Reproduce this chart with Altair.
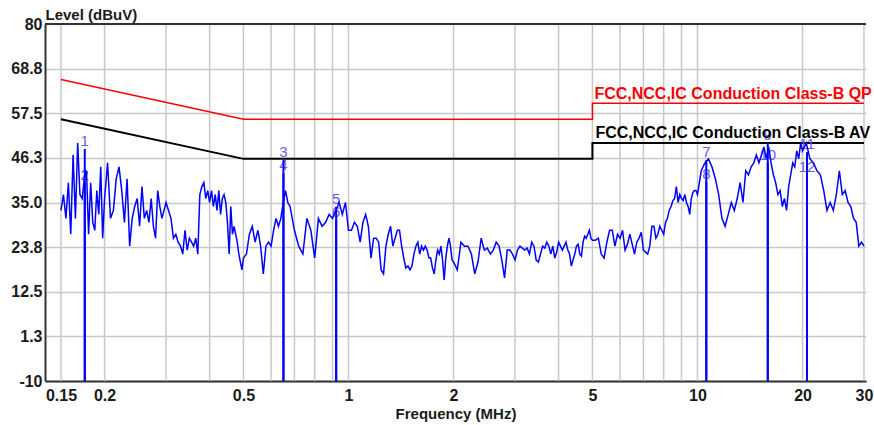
import altair as alt
import pandas as pd

# Measured conducted-emission sweep (MHz, dBuV)
trace_mhz = [
    0.1500, 0.1525, 0.1550, 0.1575, 0.1600, 0.1625, 0.1650, 0.1675, 0.1700, 0.1725,
    0.1750, 0.1775, 0.1800, 0.1825, 0.1850, 0.1875, 0.1900, 0.1925, 0.1950, 0.1975, 0.2000,
    0.204, 0.208, 0.212, 0.216, 0.220, 0.224, 0.228, 0.232, 0.236, 0.240,
    0.244, 0.248, 0.252, 0.256, 0.260, 0.264, 0.268, 0.272, 0.276, 0.280,
    0.284, 0.288, 0.292, 0.296, 0.300,
    0.305, 0.310, 0.315, 0.320, 0.325, 0.330, 0.335, 0.340, 0.345, 0.350,
    0.355, 0.360, 0.365, 0.370, 0.375, 0.380, 0.385, 0.390, 0.395, 0.400,
    0.405, 0.410, 0.415, 0.420, 0.425, 0.430, 0.435, 0.440, 0.445, 0.450,
    0.455, 0.460, 0.465, 0.470, 0.475, 0.480, 0.485, 0.490, 0.495, 0.500,
    0.51, 0.52, 0.53, 0.54, 0.55, 0.56, 0.57, 0.58, 0.59, 0.60,
    0.61, 0.62, 0.63, 0.64, 0.65, 0.66, 0.67, 0.68, 0.69, 0.70,
    0.72, 0.74, 0.76, 0.78, 0.80, 0.82, 0.84, 0.86, 0.88, 0.90,
    0.92, 0.94, 0.96, 0.98, 1.00,
    1.02, 1.04, 1.06, 1.08, 1.10, 1.12, 1.14, 1.16, 1.18, 1.20,
    1.22, 1.24, 1.26, 1.28, 1.30, 1.32, 1.34, 1.36, 1.38, 1.40,
    1.42, 1.44, 1.46, 1.48, 1.50, 1.52, 1.54, 1.56, 1.58, 1.60,
    1.62, 1.64, 1.66, 1.68, 1.70, 1.72, 1.74, 1.76, 1.78, 1.80,
    1.82, 1.84, 1.86, 1.88, 1.90, 1.92, 1.94, 1.96, 1.98, 2.00,
    2.05, 2.10, 2.15, 2.20, 2.25, 2.30, 2.35, 2.40, 2.45, 2.50,
    2.55, 2.60, 2.65, 2.70, 2.75, 2.80, 2.85, 2.90, 2.95, 3.00,
    3.05, 3.10, 3.15, 3.20, 3.25, 3.30, 3.35, 3.40, 3.45, 3.50,
    3.55, 3.60, 3.65, 3.70, 3.75, 3.80, 3.85, 3.90, 3.95, 4.00,
    4.05, 4.10, 4.15, 4.20, 4.25, 4.30, 4.35, 4.40, 4.45, 4.50,
    4.55, 4.60, 4.65, 4.70, 4.75, 4.80, 4.85, 4.90, 4.95, 5.00,
    5.1, 5.2, 5.3, 5.4, 5.5, 5.6, 5.7, 5.8, 5.9, 6.0,
    6.1, 6.2, 6.3, 6.4, 6.5, 6.6, 6.7, 6.8, 6.9, 7.0,
    7.1, 7.2, 7.3, 7.4, 7.5, 7.6, 7.7, 7.8, 7.9, 8.0,
    8.1, 8.2, 8.3, 8.4, 8.5, 8.6, 8.7, 8.8, 8.9, 9.0,
    9.1, 9.2, 9.3, 9.4, 9.5, 9.6, 9.7, 9.8, 9.9, 10.0,
    10.25, 10.5, 10.75, 11.0, 11.25, 11.5, 11.75, 12.0, 12.25, 12.5,
    12.75, 13.0, 13.25, 13.5, 13.75, 14.0, 14.25, 14.5, 14.75, 15.0,
    15.25, 15.5, 15.75, 16.0, 16.25, 16.5, 16.75, 17.0, 17.25, 17.5,
    17.75, 18.0, 18.25, 18.5, 18.75, 19.0, 19.25, 19.5, 19.75, 20.0,
    20.5, 21.0, 21.5, 22.0, 22.5, 23.0, 23.5, 24.0, 24.5, 25.0,
    25.5, 26.0, 26.5, 27.0, 27.5, 28.0, 28.5, 29.0, 29.5, 30.0,
]
trace_dbuv = [
    33, 37, 31, 40, 27, 47, 31, 50, 37, 36,
    41, 43, 27, 40, 30, 28, 38, 32, 44, 26, 36,
    45, 31, 33, 41, 44, 38, 30, 41, 24, 31,
    34, 36, 29, 39, 31, 33, 30, 36, 29, 26,
    38, 34, 31, 33, 35,
    33, 31, 26, 27, 25, 24, 22, 28, 23, 26,
    25, 24, 26, 22, 37, 39, 40, 36, 38, 35,
    38, 34, 37, 33, 38, 32, 36, 37, 35, 30,
    22, 34, 27, 29, 27, 25, 22, 20, 18, 21,
    22, 27, 29, 25, 28, 24, 17, 24, 25, 24,
    28, 31, 29, 31, 35, 38, 35, 34, 31, 28,
    24, 22, 31, 28, 21, 31, 29, 30, 32, 31,
    33, 35, 32, 35, 28,
    28, 30, 29, 25, 30, 32, 29, 21, 26, 26,
    25, 18, 17, 24, 27, 29, 24, 26, 28, 28,
    24, 21, 18.5, 19, 18, 19, 22, 24, 25, 22,
    24, 23, 24, 23, 21, 21, 18.5, 17, 20.5, 23,
    22, 24, 20.5, 15.5, 21, 24, 26, 24, 20.5, 20,
    18, 25, 24, 24, 22, 17, 20, 26, 23, 23.5,
    22, 23, 25, 24, 20.5, 16, 23, 23, 22, 20.5,
    23, 24, 23.5, 23, 23.5, 22, 25, 24, 20.5, 20,
    22, 24, 23.5, 25, 24, 22, 24, 21, 22.5, 25,
    24, 23, 24, 25, 23, 22, 19, 20.5, 22, 24,
    24.5, 22, 21.5, 25, 26.5, 26, 27, 28, 26, 25.5,
    25.5, 26, 22, 21, 25, 28, 28, 24, 27, 26,
    28, 23, 24.5, 27, 24.5, 22, 25, 26, 27.5, 23,
    22.5, 22, 24, 29, 29, 26, 27, 29, 28, 27,
    30, 31, 33, 34, 35.5, 36, 39, 35, 37, 36,
    35.5, 37, 35, 34, 32, 36, 37.5, 38, 38, 37,
    43, 45, 46, 44, 41, 37, 31, 29, 32, 35,
    33, 36, 40, 35, 43, 42, 44, 45, 47, 45,
    47, 49, 46, 49, 45, 42, 40, 37, 38, 34,
    36, 33, 39, 42, 45, 44, 48, 46, 50, 48,
    50, 46, 45, 43, 42, 38, 33, 35, 33, 37,
    43, 37, 38, 35, 34, 31, 30, 24, 25, 24,
]

# FCC / NCC / IC conducted emission limits, Class B
qp_mhz = [0.15, 0.5, 0.5, 5, 5, 30]
qp_dbuv = [66, 56, 56, 56, 60, 60]
av_mhz = [0.15, 0.5, 0.5, 5, 5, 30]
av_dbuv = [56, 46, 46, 46, 50, 50]
limit_names = ["FCC,NCC,IC Conduction Class-B QP", "FCC,NCC,IC Conduction Class-B AV"]

# Peak markers (odd = QP reading, even = AV reading)
marker_ids = ["1", "2", "3", "4", "5", "6", "7", "8", "9", "10", "11", "12"]
marker_mhz = [0.1755, 0.1755, 0.651, 0.651, 0.922, 0.922, 10.6, 10.6, 15.9, 15.9, 20.6, 20.6]
marker_dbuv = [48.5, 40.0, 45.7, 42.4, 33.9, 30.6, 45.7, 40.2, 50.0, 45.0, 47.7, 41.9]

grid_mhz = [0.15, 0.2, 0.3, 0.4, 0.5, 0.6, 0.7, 0.8, 0.9,
            1, 2, 3, 4, 5, 6, 7, 8, 9, 10, 20, 30]
x_tick_mhz = [0.15, 0.2, 0.5, 1, 2, 5, 10, 20, 30]
x_tick_text = ["0.15", "0.2", "0.5", "1", "2", "5", "10", "20", "30"]
y_tick_dbuv = [-10, 1.25, 12.5, 23.75, 35, 46.25, 57.5, 68.75, 80]
y_tick_text = ["-10", "1.3", "12.5", "23.8", "35.0", "46.3", "57.5", "68.8", "80"]

FONT = "Liberation Sans"
GRID = "#c8c8c8"
AXIS = "#333333"


def label_expr(values, texts):
    expr = "''"
    for v, t in reversed(list(zip(values, texts))):
        expr = f"abs(datum.value - {v}) < 1e-6 ? '{t}' : ({expr})"
    return expr


x_scale = alt.Scale(type="log", domain=[0.135, 30.4], nice=False)
y_scale = alt.Scale(domain=[-10, 80], nice=False, zero=False)

x_axis = alt.Axis(
    values=x_tick_mhz, labelExpr=label_expr(x_tick_mhz, x_tick_text),
    grid=False, ticks=False, domainColor=AXIS, domainWidth=2,
    labelFont=FONT, labelFontSize=16, labelFontWeight="bold", labelColor="#1a1a1a",
    labelPadding=6, labelFlush=False, labelOverlap=False,
    title="Frequency (MHz)", titleFont=FONT, titleFontSize=15, titleFontWeight="bold",
    titleColor="#1a1a1a", titlePadding=3,
)
y_axis = alt.Axis(
    values=y_tick_dbuv, labelExpr=label_expr(y_tick_dbuv, y_tick_text),
    grid=True, gridColor=GRID, gridWidth=1.5, ticks=False,
    domainColor=AXIS, domainWidth=2,
    labelFont=FONT, labelFontSize=16, labelFontWeight="bold", labelColor="#1a1a1a",
    labelPadding=3, labelFlush=False, labelOverlap=False,
    title="Level (dBuV)", titleAngle=0, titleX=0, titleY=-5, titleAlign="left",
    titleBaseline="alphabetic", titleFont=FONT, titleFontSize=15, titleFontWeight="bold",
    titleColor="#1a1a1a",
)

trace_df = pd.DataFrame({"mhz": trace_mhz, "dbuv": trace_dbuv})
qp_df = pd.DataFrame({"mhz": qp_mhz, "dbuv": qp_dbuv, "idx": range(len(qp_mhz))})
av_df = pd.DataFrame({"mhz": av_mhz, "dbuv": av_dbuv, "idx": range(len(av_mhz))})
marker_df = pd.DataFrame({"id": marker_ids, "mhz": marker_mhz, "dbuv": marker_dbuv,
                          "floor": [-10] * len(marker_ids)})
grid_df = pd.DataFrame({"mhz": grid_mhz})
top_df = pd.DataFrame({"dbuv": [80]})

vgrid = alt.Chart(grid_df).mark_rule(color=GRID, strokeWidth=1.5).encode(
    x=alt.X("mhz:Q", scale=x_scale, axis=x_axis)
)
top_border = alt.Chart(top_df).mark_rule(color=AXIS, strokeWidth=2).encode(
    y=alt.Y("dbuv:Q", scale=y_scale, axis=y_axis)
)

trace = alt.Chart(trace_df).mark_line(color="#0000ff", strokeWidth=1.5).encode(
    x=alt.X("mhz:Q", scale=x_scale),
    y=alt.Y("dbuv:Q", scale=y_scale),
)

qp_line = alt.Chart(qp_df).mark_line(color="#ff0000", strokeWidth=1.5).encode(
    x=alt.X("mhz:Q", scale=x_scale), y=alt.Y("dbuv:Q", scale=y_scale),
    order=alt.Order("idx:Q"),
)
av_line = alt.Chart(av_df).mark_line(color="#000000", strokeWidth=2).encode(
    x=alt.X("mhz:Q", scale=x_scale), y=alt.Y("dbuv:Q", scale=y_scale),
    order=alt.Order("idx:Q"),
)

marker_rules = alt.Chart(marker_df).mark_rule(color="#0000ff", strokeWidth=2).encode(
    x=alt.X("mhz:Q", scale=x_scale),
    y=alt.Y("floor:Q", scale=y_scale),
    y2="dbuv:Q",
)
marker_text = alt.Chart(marker_df).mark_text(
    font=FONT, fontSize=15, color="#6a5cf2", baseline="bottom", align="center"
).encode(
    x=alt.X("mhz:Q", scale=x_scale),
    y=alt.Y("dbuv:Q", scale=y_scale),
    text="id:N",
)

qp_label = alt.Chart(pd.DataFrame({"mhz": [qp_mhz[4]], "dbuv": [qp_dbuv[4]], "t": [limit_names[0]]})).mark_text(
    font=FONT, fontSize=16, fontWeight="bold", color="#ff0000",
    align="left", baseline="alphabetic", dx=2, dy=-4,
).encode(x=alt.X("mhz:Q", scale=x_scale), y=alt.Y("dbuv:Q", scale=y_scale), text="t:N")

av_label = alt.Chart(pd.DataFrame({"mhz": [av_mhz[4]], "dbuv": [av_dbuv[4]], "t": [limit_names[1]]})).mark_text(
    font=FONT, fontSize=16, fontWeight="bold", color="#000000",
    align="left", baseline="alphabetic", dx=3, dy=-5,
).encode(x=alt.X("mhz:Q", scale=x_scale), y=alt.Y("dbuv:Q", scale=y_scale), text="t:N")

chart = alt.layer(
    vgrid, top_border, qp_line, av_line, marker_text, trace, marker_rules, qp_label, av_label
).properties(
    width=821, height=357,
    autosize=alt.AutoSizeParams(type="none"),
    padding={"left": 45, "top": 24, "right": 8, "bottom": 44},
    background="white",
).configure_view(stroke=None)

chart.save("out.html", embed_options={"renderer": "svg", "actions": False})
